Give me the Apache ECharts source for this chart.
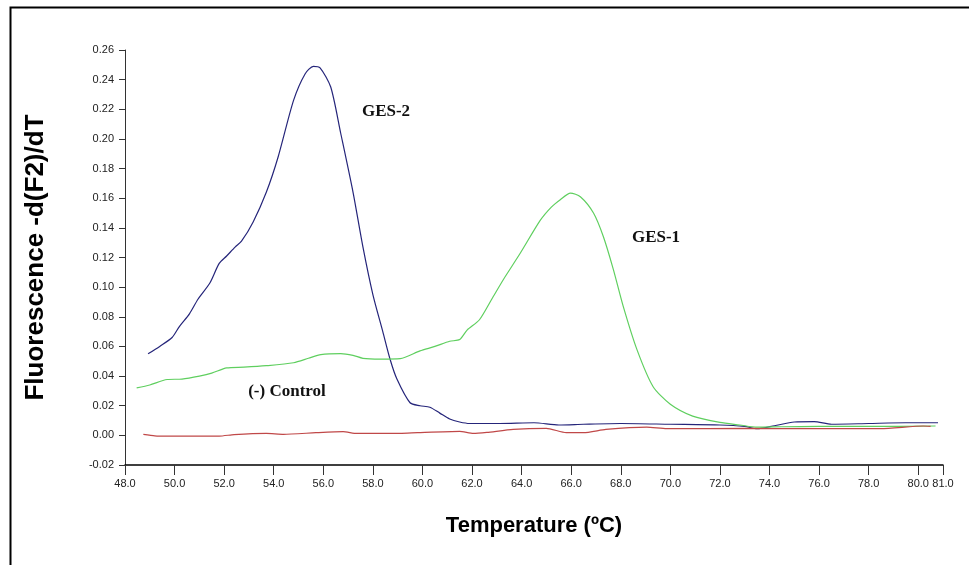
<!DOCTYPE html>
<html>
<head>
<meta charset="utf-8">
<script src="https://cdn.jsdelivr.net/npm/echarts@6/dist/echarts.min.js"></script>
<style>
  html, body { margin: 0; padding: 0; background: #fff; }
  #main { width: 969px; height: 565px; }
</style>
</head>
<body>
<div id="main"></div>
<script>
// melt curve readings, temperature (°C) -> -d(F2)/dT
var ges2Temp = [48.93, 49.4, 49.9, 50.2, 50.6, 50.95, 51.43, 51.8, 52.1, 52.44, 52.7, 53.17, 53.7, 54.18, 54.8, 55.27, 55.6, 55.87, 56.3, 56.7, 57.2, 57.6, 58.0, 58.4, 58.7, 58.97, 59.5, 59.9, 60.3, 60.7, 61.1, 61.5, 61.9, 63.1, 64.5, 65.5, 66.5, 68.0, 70.0, 72.0, 73.0, 73.5, 74.2, 75.0, 75.8, 76.5, 78.0, 79.5, 80.8];
var ges2Vals = [0.055, 0.060, 0.066, 0.0736, 0.082, 0.092, 0.103, 0.116, 0.121, 0.127, 0.131, 0.144, 0.164, 0.188, 0.226, 0.244, 0.249, 0.248, 0.235, 0.204, 0.164, 0.127, 0.095, 0.070, 0.051, 0.038, 0.022, 0.020, 0.019, 0.015, 0.011, 0.009, 0.008, 0.008, 0.0085, 0.007, 0.0075, 0.008, 0.0075, 0.007, 0.006, 0.0045, 0.0065, 0.009, 0.0093, 0.0075, 0.008, 0.0085, 0.0085];

var ges1Temp = [48.47, 49.0, 49.7, 50.3, 51.0, 51.5, 52.1, 52.8, 53.7, 54.8, 55.4, 55.9, 56.7, 57.2, 57.6, 58.3, 59.1, 59.9, 60.5, 61.1, 61.5, 61.8, 62.3, 62.8, 63.26, 63.95, 64.75, 65.2, 65.56, 65.97, 66.37, 66.9, 67.3, 67.7, 68.1, 68.65, 69.3, 70.0, 70.9, 72.0, 72.8, 73.5, 74.5, 76.0, 78.0, 80.7];
var ges1Vals = [0.032, 0.034, 0.0377, 0.038, 0.040, 0.042, 0.0455, 0.046, 0.047, 0.049, 0.052, 0.0545, 0.0552, 0.054, 0.052, 0.0515, 0.0518, 0.057, 0.060, 0.0635, 0.0646, 0.071, 0.078, 0.092, 0.105, 0.123, 0.145, 0.154, 0.159, 0.1635, 0.161, 0.150, 0.134, 0.112, 0.087, 0.058, 0.033, 0.021, 0.013, 0.0087, 0.007, 0.0055, 0.0058, 0.006, 0.006, 0.0063];

var ctrlTemp = [48.74, 49.2, 49.7, 51.8, 52.4, 53.7, 54.4, 55.7, 56.8, 57.35, 59.1, 59.8, 61.5, 62.05, 62.6, 63.66, 65.0, 65.8, 66.5, 67.4, 69.05, 69.85, 73.1, 75.0, 78.5, 80.2, 80.5];
var ctrlVals = [0.0007, -0.0003, -0.0005, -0.0005, 0.0005, 0.0013, 0.0007, 0.0018, 0.0025, 0.0013, 0.0013, 0.0018, 0.0027, 0.0013, 0.002, 0.004, 0.0047, 0.0018, 0.0018, 0.004, 0.0056, 0.0045, 0.0047, 0.0045, 0.0045, 0.0063, 0.006];

var xTicks = [48, 50, 52, 54, 56, 58, 60, 62, 64, 66, 68, 70, 72, 74, 76, 78, 80, 81];

function pairs(xs, ys) {
  return xs.map(function (x, i) { return [x, ys[i]]; });
}

var myChart = echarts.init(document.getElementById('main'));
var txt = { fontFamily: 'Liberation Serif', fontWeight: 'bold', fontSize: 17, fill: '#111' };

myChart.setOption({
  animation: false,
  backgroundColor: '#fff',
  grid: { left: 125, top: 50, right: 26, bottom: 100 },
  xAxis: {
    type: 'value',
    min: 48,
    max: 81,
    name: 'Temperature (ºC)',
    nameLocation: 'middle',
    nameGap: 50,
    nameTextStyle: { fontFamily: 'Liberation Sans', fontWeight: 'bold', fontSize: 22, color: '#000' },
    axisLine: { onZero: false, lineStyle: { color: '#000', width: 1.5 } },
    axisTick: { customValues: xTicks, length: 10, lineStyle: { color: '#333' } },
    axisLabel: {
      customValues: xTicks,
      margin: 13,
      fontFamily: 'Liberation Sans',
      fontSize: 11,
      color: '#222',
      formatter: function (v) { return v.toFixed(1); }
    },
    splitLine: { show: false }
  },
  yAxis: {
    type: 'value',
    min: -0.02,
    max: 0.26,
    interval: 0.02,
    name: 'Fluorescence -d(F2)/dT',
    nameLocation: 'middle',
    nameGap: 76,
    nameTextStyle: { fontFamily: 'Liberation Sans', fontWeight: 'bold', fontSize: 26, color: '#000' },
    axisLine: { show: true, onZero: false, lineStyle: { color: '#333', width: 1 } },
    axisTick: { show: true, length: 6, lineStyle: { color: '#333' } },
    axisLabel: {
      margin: 11,
      fontFamily: 'Liberation Sans',
      fontSize: 11,
      color: '#222',
      formatter: function (v) { return v.toFixed(2); }
    },
    splitLine: { show: false }
  },
  series: [
    {
      name: 'GES-2',
      type: 'line',
      showSymbol: false,
      smooth: 0.25,
      data: pairs(ges2Temp, ges2Vals),
      lineStyle: { color: '#25257a', width: 1.2 }
    },
    {
      name: 'GES-1',
      type: 'line',
      showSymbol: false,
      smooth: 0.25,
      data: pairs(ges1Temp, ges1Vals),
      lineStyle: { color: '#5fcf5f', width: 1.2 }
    },
    {
      name: '(-) Control',
      type: 'line',
      showSymbol: false,
      smooth: 0.2,
      data: pairs(ctrlTemp, ctrlVals),
      lineStyle: { color: '#c04848', width: 1.2 }
    }
  ],
  graphic: [
    { type: 'rect', left: 8, top: 5, shape: { width: 990, height: 600 }, style: { fill: 'none', stroke: '#000', lineWidth: 2 }, silent: true },
    { type: 'text', x: 386, y: 112, style: Object.assign({ text: 'GES-2', align: 'center', verticalAlign: 'middle' }, txt) },
    { type: 'text', x: 656, y: 238, style: Object.assign({ text: 'GES-1', align: 'center', verticalAlign: 'middle' }, txt) },
    { type: 'text', x: 287, y: 392, style: Object.assign({ text: '(-) Control', align: 'center', verticalAlign: 'middle' }, txt) }
  ]
});
</script>
</body>
</html>
